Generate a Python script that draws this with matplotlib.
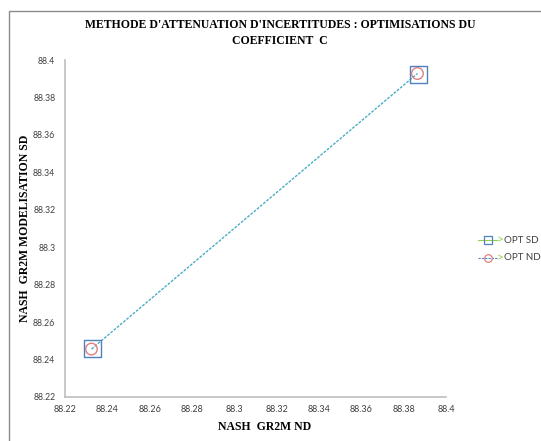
import matplotlib
matplotlib.use("Agg")
import matplotlib.pyplot as plt
from matplotlib.patches import Rectangle
from matplotlib.lines import Line2D

# Data
opt_sd_x = [88.2328, 88.3868]
opt_sd_y = [88.2458, 88.3922]
opt_nd_x = [88.2325, 88.3865]
opt_nd_y = [88.2456, 88.3928]
x_ticks = [88.22, 88.24, 88.26, 88.28, 88.3, 88.32, 88.34, 88.36, 88.38, 88.4]
y_ticks = [88.22, 88.24, 88.26, 88.28, 88.3, 88.32, 88.34, 88.36, 88.38, 88.4]
tick_labels = ["88.22", "88.24", "88.26", "88.28", "88.3", "88.32", "88.34", "88.36", "88.38", "88.4"]

W, H = 541, 441
fig = plt.figure(figsize=(W / 100, H / 100), dpi=100)

# outer chart border
fig.patches.append(Rectangle((9 / W, -0.1), 1.2, 1 - 11 / H + 0.1, transform=fig.transFigure,
                             fill=False, edgecolor="#8c8c8c", linewidth=1.0))

ax = fig.add_axes([65 / W, 1 - 397 / H, (446 - 65) / W, (397 - 60) / H])

ax.plot(opt_nd_x, opt_nd_y, linestyle=(0, (2, 1)), color="#4bacc6", linewidth=1.0, zorder=2)
ax.scatter(opt_sd_x, opt_sd_y, marker="s", s=150, facecolors="none", edgecolors="#4f81bd",
           linewidths=1.0, zorder=3)
ax.scatter(opt_nd_x, opt_nd_y, marker="o", s=70, facecolors="none", edgecolors="#e08080",
           linewidths=1.0, zorder=4)

ax.set_xlim(88.22, 88.4)
ax.set_ylim(88.22, 88.4)
ax.set_xticks(x_ticks)
ax.set_xticklabels(tick_labels)
ax.set_yticks(y_ticks)
ax.set_yticklabels(tick_labels)
ax.tick_params(axis="x", length=0, labelsize=6.5, labelcolor="#404040", pad=6)
ax.tick_params(axis="y", length=0, labelsize=6.3, labelcolor="#404040", pad=7)
for lab in ax.get_xticklabels() + ax.get_yticklabels():
    lab.set_family("Lato")
for s in ["top", "right"]:
    ax.spines[s].set_visible(False)
for s in ["left", "bottom"]:
    ax.spines[s].set_color("#bfbfbf")
    ax.spines[s].set_linewidth(1.2)

ax.set_xlabel("NASH  GR2M ND", fontfamily="Liberation Serif", fontweight="bold", fontsize=8.5)
ax.xaxis.set_label_coords((265 - 65) / (446 - 65), -(421 - 397) / (397 - 60))
ax.set_ylabel("NASH  GR2M MODELISATION SD", fontfamily="Liberation Serif", fontweight="bold",
              fontsize=8.5)
ax.yaxis.set_label_coords(-(65 - 31) / (446 - 65), 0.5)

fig.text(0.518, 1 - 25 / H, "METHODE D'ATTENUATION D'INCERTITUDES : OPTIMISATIONS DU",
         ha="center", va="center", fontfamily="Liberation Serif", fontweight="bold", fontsize=8.5)
fig.text(0.518, 1 - 41 / H, "COEFFICIENT  C",
         ha="center", va="center", fontfamily="Liberation Serif", fontweight="bold", fontsize=8.5)

# legend (manual, partially cut at right edge like the reference)
for yy, lc, ls, mk, mc, txt in [(240, "#92d050", "-", "s", "#4f81bd", "OPT SD"),
                                 (258, "#4f81bd", (0, (2, 1)), "o", "#e08080", "OPT ND")]:
    yf = 1 - yy / H
    fig.add_artist(Line2D([478 / W, 497 / W], [yf, yf], transform=fig.transFigure,
                          color=lc, linestyle=ls, linewidth=0.8))
    fig.add_artist(Line2D([488 / W], [yf], transform=fig.transFigure, marker=mk, markersize=5.5,
                          markerfacecolor="none", markeredgecolor=mc, markeredgewidth=0.9))
    fig.text(497 / W, yf, ">", ha="left", va="center", fontsize=8.5, color="#92d050", fontfamily="Lato")
    fig.text(504 / W, yf, txt, ha="left", va="center", fontsize=7, color="#404040", fontfamily="Lato")

fig.savefig("out.png", dpi=100)
